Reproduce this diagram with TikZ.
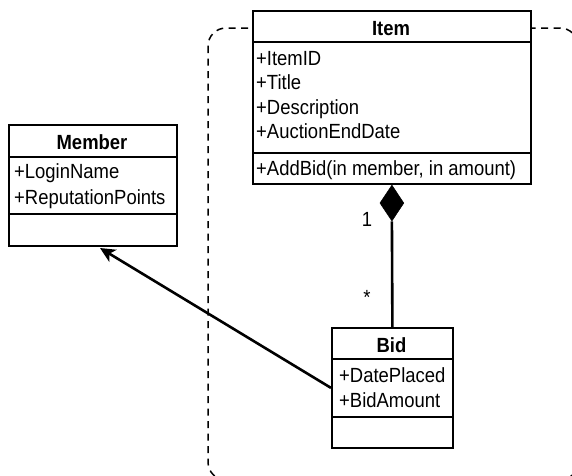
\documentclass[tikz,border=0pt]{standalone}
\usepackage{fontspec}
\setmainfont{Liberation Sans}[FakeStretch=0.9]
\usetikzlibrary{arrows.meta,shapes.geometric}
\begin{document}
\begin{tikzpicture}[x=1pt,y=-1pt,
  box/.style={draw,line width=1.8pt,fill=white,inner sep=0pt,anchor=north west},
  sep/.style={line width=1.5pt},
  txt/.style={anchor=base west,inner sep=0pt,font=\fontsize{20.5}{24}\selectfont},
  head/.style={anchor=base,inner sep=0pt,font=\fontsize{20.5}{24}\selectfont\bfseries},
  mult/.style={anchor=base,inner sep=0pt,font=\fontsize{20.5}{24}\selectfont},
  conn/.style={line width=2.6pt},
  bound/.style={line width=1.5pt,dash pattern=on 7pt off 5.5pt,rounded corners=18pt}
  ]
\useasboundingbox (0,0) rectangle (572,475);
\clip (0,0) rectangle (572,475);
% dashed boundary
\draw[bound] (208,28) rectangle (578,480);
% Item
\node[box,minimum width=278pt,minimum height=173pt] (item) at (252,10) {};
\draw[sep] (item.west |- 0,42) -- (item.east |- 0,42);
\draw[sep] (item.west |- 0,153) -- (item.east |- 0,153);
\node[head] (itemh) at (391,35) {Item};
\node[txt] (i1) at (256,65) {+ItemID};
\node[txt] (i2) at (256,89.5) {+Title};
\node[txt] (i3) at (256,114) {+Description};
\node[txt] (i4) at (256,138.5) {+AuctionEndDate};
\node[txt] (i5) at (256,175) {+AddBid(in member, in amount)};
% Member
\node[box,minimum width=168pt,minimum height=121pt] (member) at (8,124) {};
\draw[sep] (member.west |- 0,157) -- (member.east |- 0,157);
\draw[sep] (member.west |- 0,214) -- (member.east |- 0,214);
\node[head] (memh) at (92,149) {Member};
\node[txt] (m1) at (14,178.5) {+LoginName};
\node[txt] (m2) at (14,204) {+ReputationPoints};
% Bid
\node[box,minimum width=121pt,minimum height=120pt] (bid) at (331,327) {};
\draw[sep] (bid.west |- 0,359) -- (bid.east |- 0,359);
\draw[sep] (bid.west |- 0,417) -- (bid.east |- 0,417);
\node[head] (bidh) at (391.5,352) {Bid};
\node[txt] (b1) at (339,382) {+DatePlaced};
\node[txt] (b2) at (339,407) {+BidAmount};
% composition
\node[diamond,fill=black,draw=black,line width=0.5pt,inner sep=0pt,minimum width=24pt,minimum height=36pt,anchor=north] (dia) at (item.south) {};
\draw[conn] (dia.south) -- (bid.north);
\node[mult] (one) at (367,226) {1};
\node[mult] (star) at (367,304) {*};
% association arrow
\coordinate (memtip) at (100,248);
\draw[conn,-{Stealth[length=15pt,width=14pt,inset=4pt]}] (bid.west) -- (memtip);
\end{tikzpicture}
\end{document}
